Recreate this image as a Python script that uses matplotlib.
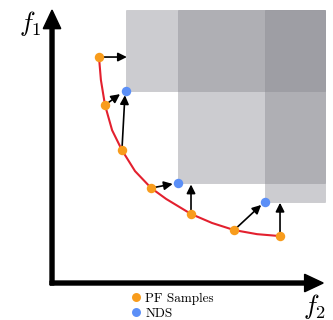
import matplotlib
matplotlib.use('Agg')
import matplotlib.pyplot as plt
from matplotlib.patches import Rectangle

plt.rcParams['mathtext.fontset'] = 'cm'

# Pareto front samples (orange) and the red front through them
pf_x = [1.72, 1.94, 2.56, 3.63, 5.09, 6.67, 8.35]
pf_y = [8.28, 6.52, 4.87, 3.48, 2.53, 1.94, 1.72]
front_x = [1.72, 1.79, 1.94, 2.20, 2.56, 3.04, 3.63, 4.18, 5.09, 5.86, 6.67, 7.51, 8.35]
front_y = [8.28, 7.44, 6.52, 5.60, 4.87, 4.10, 3.48, 3.08, 2.53, 2.20, 1.94, 1.79, 1.72]

# non-dominated set (blue)
nds_x = [2.71, 4.60, 7.80]
nds_y = [7.05, 3.65, 2.96]

# where each sample's arrow points to
step_x = [2.74, 2.49, 2.67, 4.42, 5.09, 7.66, 8.35]
step_y = [8.28, 6.92, 6.88, 3.63, 3.61, 2.86, 2.94]

lim = 10.0

fig = plt.figure(figsize=(3.33, 3.2), dpi=100)
ax = fig.add_axes([0, 0, 1, 1])
ax.set_xlim(-1.905, 10.29)
ax.set_ylim(-1.355, 10.37)
ax.axis('off')

# dominated regions
for x, y in zip(nds_x, nds_y):
    ax.add_patch(Rectangle((x, y), lim - x, lim - y, facecolor=(0.53, 0.53, 0.56),
                           alpha=0.42, edgecolor=(0.5, 0.5, 0.53), lw=0.4, zorder=1))

# axes arrows
ax.arrow(0, -0.07, 0, lim + 0.07, width=0.146, head_width=0.64, head_length=0.68,
         length_includes_head=True, color='k', zorder=2)
ax.arrow(-0.07, 0, 9.93 + 0.07, 0, width=0.146, head_width=0.64, head_length=0.68,
         length_includes_head=True, color='k', zorder=2)

ax.plot(front_x, front_y, color='#e3202e', lw=1.5, solid_joinstyle='round', zorder=3)

for x0, y0, x1, y1 in zip(pf_x, pf_y, step_x, step_y):
    ax.annotate('', xy=(x1, y1), xytext=(x0, y0),
                arrowprops=dict(arrowstyle='-|>', color='k', lw=1.2,
                                mutation_scale=13, shrinkA=0, shrinkB=0),
                zorder=4)

ax.plot(pf_x, pf_y, 'o', color='#f89c1c', ms=6.8, mec='none', label='PF Samples', zorder=5)
ax.plot(nds_x, nds_y, 'o', color='#5b8ff7', ms=6.8, mec='none', label='NDS', zorder=5)

ax.text(-0.81, 9.52, '$f_1$', fontsize=19, ha='center', va='center')
ax.text(9.6, -0.86, '$f_2$', fontsize=19, ha='center', va='center')

ax.legend(loc='upper left', bbox_to_anchor=(0.395, 0.086), frameon=False,
          prop={'family': 'cmr10', 'size': 9.5}, handlelength=0.7, handletextpad=0.35,
          labelspacing=0.2, borderpad=0, borderaxespad=0, markerscale=0.95)

fig.savefig('out.png', dpi=100)
